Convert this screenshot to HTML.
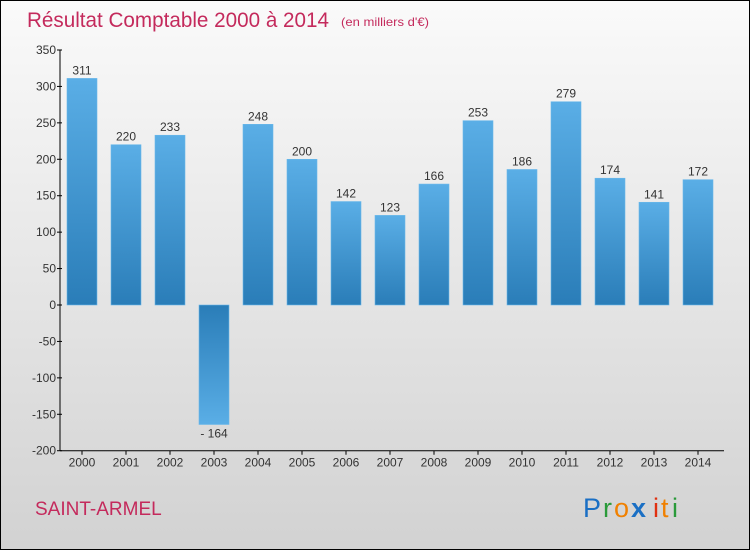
<!DOCTYPE html>
<html><head><meta charset="utf-8"><style>
body{margin:0;width:750px;height:550px;overflow:hidden;font-family:"Liberation Sans",sans-serif}
#c{position:absolute;left:0;top:0;width:748px;height:548px;border:1px solid #000;background:linear-gradient(#fafafa,#d2d2d2)}
</style></head><body>
<div id="c">
<svg width="748" height="548" font-family="Liberation Sans, sans-serif">
<defs>
<linearGradient id="gp" x1="0" y1="0" x2="0" y2="1"><stop offset="0" stop-color="#5aaee6"/><stop offset="1" stop-color="#2a7db8"/></linearGradient>
<linearGradient id="gn" x1="0" y1="0" x2="0" y2="1"><stop offset="0" stop-color="#2a7db8"/><stop offset="1" stop-color="#5aaee6"/></linearGradient>
</defs>
<text x="26" y="26" font-size="21" fill="#c42a5c" textLength="302" lengthAdjust="spacingAndGlyphs">Résultat Comptable 2000 à 2014</text>
<text x="340" y="25" font-size="12" fill="#c42a5c" textLength="88" lengthAdjust="spacingAndGlyphs">(en milliers d'€)</text>
<g id="axes"></g><g id="bars"></g>
<text x="34" y="514" font-size="19" fill="#c42a5c">SAINT-ARMEL</text>
<g font-size="27" font-family="Liberation Sans, sans-serif">
<text x="582" y="516" fill="#1a6fc4">P</text><text x="602" y="516" fill="#2a9a3a">r</text><text x="613" y="516" fill="#f08000">o</text><text x="630" y="516" fill="#1a6fc4" font-weight="bold">x</text><text x="652" y="516" fill="#e03010">i</text><text x="660" y="516" fill="#f08000">t</text><text x="671" y="516" fill="#2a9a3a">i</text></g>
</svg></div>
<script>
const years=["2000","2001","2002","2003","2004","2005","2006","2007","2008","2009","2010","2011","2012","2013","2014"];
const values=[311,220,233,-164,248,200,142,123,166,253,186,279,174,141,172];
const ticks=[350,300,250,200,150,100,50,0,-50,-100,-150,-200];
const NS="http://www.w3.org/2000/svg";
const y=v=>304-v*(255/350);
const x=i=>81+i*44;
const ax=document.getElementById('axes'),bg=document.getElementById('bars');
function mk(t,a,p){const e=document.createElementNS(NS,t);for(const k in a)e.setAttribute(k,a[k]);p.appendChild(e);return e;}
let l=mk('line',{x1:59,x2:59,y1:y(350),y2:y(-200),stroke:'#000'},ax);


l=mk('line',{x1:59,x2:723,y1:y(-200),y2:y(-200),stroke:'#000'},ax);


ticks.forEach(t=>{mk('line',{x1:56,x2:61,y1:y(t),y2:y(t),stroke:'#000'},ax);
const tx=mk('text',{x:55,y:y(t)+4,'font-size':12,fill:'#333','text-anchor':'end'},ax);tx.textContent=t<0?'-'+(-t):t;

});
years.forEach((yr,i)=>{const v=values[i];
mk('line',{x1:x(i),x2:x(i),y1:y(-200),y2:y(-200)+4,stroke:'#000'},ax);
const t=mk('text',{x:x(i),y:y(-200)+16,'font-size':12,fill:'#333','text-anchor':'middle'},ax);t.textContent=yr;


const top=Math.min(y(v),y(0)),h=Math.abs(y(v)-y(0));
const r=mk('rect',{x:x(i)-15,y:top,width:30,height:h,fill:v<0?'url(#gn)':'url(#gp)',stroke:'#6ab8ea','stroke-width':0.6},bg);


const lb=mk('text',{x:x(i),y:v<0?y(v)+13:y(v)-4,'font-size':12,fill:'#333','text-anchor':'middle'},bg);
lb.textContent=v<0?'- '+(-v):v;

});
</script>
</body></html>
